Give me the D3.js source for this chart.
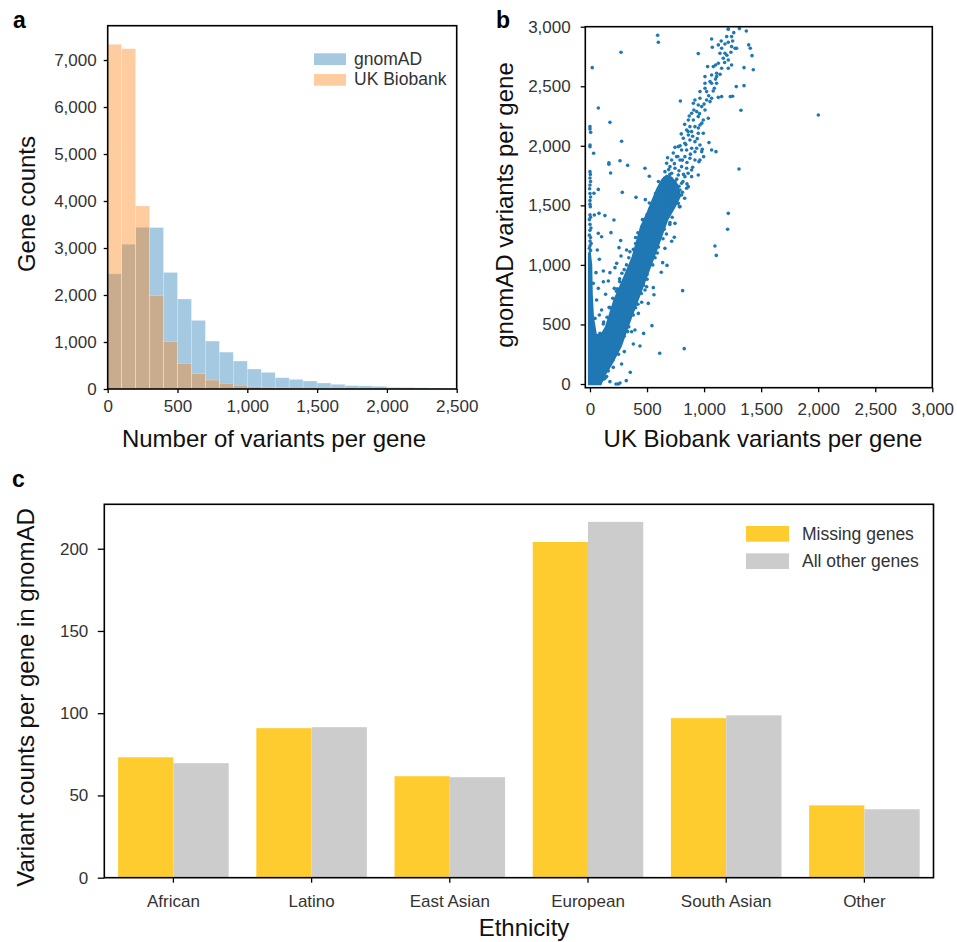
<!DOCTYPE html>
<html>
<head>
<meta charset="utf-8">
<script src="https://cdn.jsdelivr.net/npm/d3@7"></script>
<style>
body { margin: 0; background: #fff; }
text { font-family: "Liberation Sans", Arial, sans-serif; }
</style>
</head>
<body>
<script>
// ---- panel a: histogram (bins of 100 variants) ----
let binStarts = [0, 100, 200, 300, 400, 500, 600, 700, 800, 900, 1000, 1100, 1200, 1300, 1400, 1500, 1600, 1700, 1800, 1900, 2000, 2100, 2200, 2300, 2400];
let gnomadCounts = [2450, 3080, 3440, 3435, 2480, 1915, 1460, 1020, 785, 595, 425, 355, 240, 205, 170, 128, 100, 72, 66, 57, 35, 30, 25, 15, 10];
let ukbCounts = [7335, 7240, 3895, 1985, 1005, 545, 325, 190, 120, 80, 45, 32, 20, 15, 10, 7, 5, 4, 3, 2, 2, 1, 1, 1, 1];
let histXTicks = [0, 500, 1000, 1500, 2000, 2500];
let histYTicks = [0, 1000, 2000, 3000, 4000, 5000, 6000, 7000];

// ---- panel b: scatter (UK Biobank, gnomAD) ----
// outline of the solid, over-plotted core of the cloud
let coreOutline = [[-18, -10], [-18, 1100], [5, 1130], [20, 1000], [25, 750], [35, 560], [60, 420], [100, 430], [131, 481], [204, 705], [292, 901], [365, 1069], [438, 1321], [500, 1450], [540, 1545], [580, 1640], [625, 1720], [670, 1760], [720, 1740], [770, 1680], [800, 1580], [760, 1500], [686, 1377], [613, 1181], [526, 957], [438, 733], [351, 510], [278, 313], [200, 170], [130, 60], [100, -10]];
let bandPoints = [[1212, 2978], [1241, 2917], [1198, 2917], [1212, 2869], [1183, 2855], [1241, 2833], [1271, 2819], [1285, 2819], [1154, 2819], [1125, 2847], [1066, 2897], [1072, 2827], [1139, 2777], [1183, 2777], [1235, 2785], [1168, 2735], [1212, 2721], [1241, 2679], [1125, 2693], [1101, 2679], [1081, 2665], [1031, 2665], [1154, 2651], [1212, 2651], [1110, 2609], [1066, 2595], [1008, 2581], [1110, 2581], [1052, 2539], [1008, 2525], [1066, 2525], [1110, 2525], [1008, 2483], [964, 2455], [1022, 2455], [1090, 2483], [1154, 2413], [1125, 2407], [1066, 2399], [1052, 2371], [1022, 2385], [964, 2399], [920, 2385], [906, 2357], [949, 2343], [979, 2329], [1008, 2301], [935, 2287], [891, 2273], [862, 2217], [906, 2217], [949, 2245], [993, 2217], [1037, 2231], [964, 2175], [920, 2161], [876, 2161], [847, 2133], [891, 2119], [949, 2105], [993, 2105], [862, 2091], [818, 2063], [832, 2021], [876, 2049], [920, 2035], [964, 2007], [774, 1993], [745, 1987], [803, 1965], [847, 1965], [891, 1979], [935, 1979], [979, 1951], [759, 1909], [716, 1881], [789, 1881], [832, 1909], [876, 1895], [920, 1881], [964, 1881], [701, 1825], [745, 1811], [672, 1853], [803, 1825], [847, 1811], [891, 1797], [657, 1783], [716, 1769], [774, 1755], [832, 1741], [891, 1741], [643, 1713], [686, 1685], [745, 1699], [803, 1685], [862, 1657], [613, 1657], [672, 1629], [730, 1643], [789, 1629], [847, 1643], [584, 1601], [628, 1573], [686, 1587], [745, 1573], [803, 1587], [570, 1545], [613, 1531], [672, 1517], [716, 1531], [774, 1517], [540, 1489], [599, 1489], [657, 1489], [730, 1489], [789, 1489],
    [600, 1700], [655, 1730], [700, 1760], [760, 1720], [815, 1700], [850, 1680], [830, 1560], [810, 1610], [640, 1680], [690, 1800], [740, 1850], [780, 1790], [820, 1760], [860, 1770], [900, 1820], [680, 1900], [730, 1940], [770, 1910], [810, 1880], [850, 1860], [790, 2000], [840, 2010], [880, 1930], [920, 1950], [940, 2060], [900, 2080], [860, 2120], [950, 2150], [980, 2190], [800, 2100], [830, 2180], [870, 2250], [910, 2300], [960, 2270], [1000, 2350], [1040, 2420], [1080, 2460], [1100, 2560], [1140, 2600], [1180, 2700], [1200, 2760], [1250, 2880], [1260, 2950], [1150, 2880],
    [620, 1620], [660, 1560], [720, 1620], [780, 1660], [575, 1600], [555, 1520], [525, 1470], [500, 1420], [480, 1380], [460, 1330], [420, 1270], [400, 1180], [380, 1130], [340, 1060], [320, 1000], [280, 930], [260, 860], [230, 780], [200, 720], [170, 640], [150, 560], [720, 1400], [700, 1340], [670, 1260], [640, 1220], [600, 1150], [570, 1060], [550, 1000], [500, 920], [470, 830], [450, 760], [400, 640], [380, 580], [340, 480], [300, 400], [260, 330], [230, 260], [200, 200],
    [120, 520], [180, 640], [240, 800], [300, 960], [350, 1110], [400, 1230], [460, 1380], [520, 1520], [700, 1500], [650, 1300], [590, 1100], [500, 880], [420, 670], [330, 440], [250, 250], [160, 110], [120, 40]];
let outlierPoints = [[2001, 2259], [1212, 1433], [1206, 1299], [1095, 1159], [1107, 1080], [812, 784], [826, 297], [611, 258], [543, 490], [739, 1232], [675, 996], [625, 938], [561, 750], [511, 677], [470, 425], [438, 319], [380, 336], [353, 98], [318, 28], [248, 0], [228, 0], [263, 8], [482, 789], [497, 817], [555, 809], [637, 1019], [657, 1139], [716, 1198], [745, 1349], [783, 1489], [701, 1355], [424, 593], [453, 686], [394, 453], [365, 439], [301, 272], [277, 168], [204, 140], [146, 62], [175, 20], [79, 1433], [131, 1414], [210, 1377], [38, 1419], [73, 1265], [102, 1237], [184, 1271], [269, 1204], [254, 1145], [321, 1125], [272, 1075], [64, 1125], [82, 1047], [234, 1013], [219, 977], [117, 949], [53, 935], [175, 935], [260, 884], [161, 865], [117, 859], [73, 803], [137, 753], [213, 803], [169, 644], [102, 621], [82, 579], [117, 504], [44, 551], [88, 425], [64, 383], [50, 313], [73, 243], [15, 230], [88, 90], [131, 48], [58, 705], [29, 845], [593, 2928], [599, 2869], [272, 2785], [20, 2656], [73, 2318], [175, 2197], [277, 2038], [32, 1937], [166, 1858], [166, 1845], [181, 1772], [263, 1875], [330, 1836], [73, 1634], [35, 1601], [283, 1609], [403, 1567], [482, 1811], [520, 1744], [485, 1548], [792, 2376], [949, 2774], [1306, 1805], [1323, 2298], [1350, 2505], [1431, 2639], [1350, 2656], [1420, 2757], [1405, 2819], [1391, 2847], [1370, 2964], [1309, 2984], [1212, 2981], [1250, 2416], [1230, 2413], [1282, 2497], [1104, 1951], [1066, 1965], [984, 1971], [996, 1909], [955, 1867], [949, 1755], [1043, 2027]];
let stripPoints = [[0, 1420], [5, 1400], [-5, 1380], [0, 1340], [8, 1310], [0, 1290], [-5, 1250], [5, 1230], [0, 1200], [10, 1180], [0, 1160], [-5, 1140], [5, 1120], [0, 1783], [3, 1760], [0, 1730], [5, 1700], [0, 1670], [-3, 1640], [0, 1600], [5, 1570], [0, 1540], [0, 1510], [3, 1489], [0, 2161], [0, 2141], [6, 2113], [0, 2007], [0, 1993]];
let scatterTicks = [0, 500, 1000, 1500, 2000, 2500, 3000];

// ---- panel c: grouped bars ----
let ethnicities = ["African", "Latino", "East Asian", "European", "South Asian", "Other"];
let groups = ["Missing genes", "All other genes"];
let missingGenes = [73.2, 90.9, 61.7, 204.1, 97.0, 44.0];
let otherGenes = [69.6, 91.5, 61.1, 216.3, 98.7, 41.6];
let barTicks = [0, 50, 100, 150, 200];

let svg = d3.select("body").append("svg").attr("width", 957).attr("height", 942);

function frame(x0, y0, x1, y1) {
    svg.append("rect").attr("x", x0).attr("y", y0).attr("width", x1 - x0).attr("height", y1 - y0)
        .attr("fill", "none").attr("stroke", "#000").attr("stroke-width", 1.6);
}
function styleAxis(g) {
    g.select(".domain").remove();
    g.selectAll(".tick line").attr("stroke", "#000").attr("stroke-width", 1.3);
    g.selectAll(".tick text").attr("font-size", "17px").attr("fill", "#333")
        .attr("font-family", "Liberation Sans, Arial, sans-serif");
}

// ===== panel a =====
let xA = d3.scaleLinear().domain([0, 2500]).range([107.7, 456.7]);
let yA = d3.scaleLinear().domain([0, 7730]).range([389, 25.7]);

svg.append("g").selectAll("rect").data(gnomadCounts).enter().append("rect")
    .attr("x", function(d, i) { return xA(binStarts[i]); })
    .attr("width", function(d, i) { return xA(binStarts[i] + 100) - xA(binStarts[i]); })
    .attr("y", function(d) { return yA(d); })
    .attr("height", function(d) { return yA(0) - yA(d); })
    .attr("fill", "#1f77b4").attr("fill-opacity", 0.4)
    .attr("stroke", "#fff").attr("stroke-opacity", 0.4).attr("stroke-width", 0.6);
svg.append("g").selectAll("rect").data(ukbCounts).enter().append("rect")
    .attr("x", function(d, i) { return xA(binStarts[i]); })
    .attr("width", function(d, i) { return xA(binStarts[i] + 100) - xA(binStarts[i]); })
    .attr("y", function(d) { return yA(d); })
    .attr("height", function(d) { return yA(0) - yA(d); })
    .attr("fill", "#ff7f0e").attr("fill-opacity", 0.4)
    .attr("stroke", "#fff").attr("stroke-opacity", 0.4).attr("stroke-width", 0.6);

svg.append("g").attr("transform", "translate(0,389)")
    .call(d3.axisBottom(xA).tickValues(histXTicks).tickFormat(d3.format(",")).tickSize(4).tickPadding(7))
    .call(styleAxis);
svg.append("g").attr("transform", "translate(107.7,0)")
    .call(d3.axisLeft(yA).tickValues(histYTicks).tickFormat(d3.format(",")).tickSize(4).tickPadding(7))
    .call(styleAxis);
frame(107.7, 25.7, 456.7, 389);

// legend a
let legA = [["gnomAD", "#1f77b4"], ["UK Biobank", "#ff7f0e"]];
svg.append("g").selectAll("rect").data(legA).enter().append("rect")
    .attr("x", 314).attr("y", function(d, i) { return 53.3 + i * 20.7; })
    .attr("width", 32).attr("height", 11.7)
    .attr("fill", function(d) { return d[1]; }).attr("fill-opacity", 0.4);
svg.append("g").selectAll("text").data(legA).enter().append("text")
    .attr("x", 354).attr("y", function(d, i) { return 64.5 + i * 20.7; })
    .attr("font-size", "17.5px").attr("fill", "#333").text(function(d) { return d[0]; });

svg.append("text").attr("transform", "translate(35,204) rotate(-90)").attr("text-anchor", "middle")
    .attr("font-size", "24px").attr("fill", "#111").text("Gene counts");
svg.append("text").attr("x", 274).attr("y", 446.7).attr("text-anchor", "middle")
    .attr("font-size", "24px").attr("fill", "#111").text("Number of variants per gene");
svg.append("text").attr("x", 13).attr("y", 28).attr("font-size", "23px").attr("font-weight", "bold").text("a");

// ===== panel b =====
let xB = d3.scaleLinear().domain([-41, 3000]).range([585.3, 932.3]);
let yB = d3.scaleLinear().domain([-31, 3000]).range([387.7, 26.7]);

svg.append("clipPath").attr("id", "clipB").append("rect")
    .attr("x", 585.3).attr("y", 26.7).attr("width", 347).attr("height", 361);
let gB = svg.append("g").attr("clip-path", "url(#clipB)");
let coreLine = d3.line().curve(d3.curveLinearClosed)
    .x(function(d) { return xB(d[0]); }).y(function(d) { return yB(d[1]); });
gB.append("path").attr("d", coreLine(coreOutline)).attr("fill", "#1f77b4");
let allPoints = bandPoints.concat(outlierPoints, stripPoints);
gB.selectAll("circle").data(allPoints).enter().append("circle")
    .attr("cx", function(d) { return xB(d[0]); })
    .attr("cy", function(d) { return yB(d[1]); })
    .attr("r", 1.8).attr("fill", "#1f77b4");

svg.append("g").attr("transform", "translate(0,387.7)")
    .call(d3.axisBottom(xB).tickValues(scatterTicks).tickFormat(d3.format(",")).tickSize(4.6).tickPadding(11))
    .call(styleAxis);
svg.append("g").attr("transform", "translate(585.3,0)")
    .call(d3.axisLeft(yB).tickValues(scatterTicks).tickFormat(d3.format(",")).tickSize(4.6).tickPadding(10))
    .call(styleAxis);
frame(585.3, 26.7, 932.3, 387.7);

svg.append("text").attr("transform", "translate(513,205) rotate(-90)").attr("text-anchor", "middle")
    .attr("font-size", "24px").attr("fill", "#111").text("gnomAD variants per gene");
svg.append("text").attr("x", 763).attr("y", 446.7).attr("text-anchor", "middle")
    .attr("font-size", "24px").attr("fill", "#111").text("UK Biobank variants per gene");
svg.append("text").attr("x", 496).attr("y", 28).attr("font-size", "23px").attr("font-weight", "bold").text("b");

// ===== panel c =====
let xC = d3.scaleBand().domain(ethnicities).range([104.3, 933.5]).paddingInner(0.2).paddingOuter(0.1);
let xSub = d3.scaleBand().domain(groups).range([0, xC.bandwidth()]);
let yC = d3.scaleLinear().domain([0, 227]).range([877.7, 504.3]);
let barColors = ["#fecc2f", "#cccccc"];

let barRows = ethnicities.map(function(e, i) { return [e, missingGenes[i], otherGenes[i]]; });
let grp = svg.append("g").selectAll("g").data(barRows).enter().append("g")
    .attr("transform", function(d) { return "translate(" + xC(d[0]) + ",0)"; });
grp.selectAll("rect").data(function(d) { return [d[1], d[2]]; }).enter().append("rect")
    .attr("x", function(d, i) { return xSub(groups[i]); })
    .attr("width", xSub.bandwidth())
    .attr("y", function(d) { return yC(d); })
    .attr("height", function(d) { return yC(0) - yC(d); })
    .attr("fill", function(d, i) { return barColors[i]; });

svg.append("g").attr("transform", "translate(0,877.7)")
    .call(d3.axisBottom(xC).tickSize(5).tickPadding(12))
    .call(styleAxis);
svg.append("g").attr("transform", "translate(104.3,0)")
    .call(d3.axisLeft(yC).tickValues(barTicks).tickSize(6.5).tickPadding(9.5))
    .call(styleAxis);
frame(104.3, 504.3, 933.5, 877.7);

// legend c
svg.append("g").selectAll("rect").data(groups).enter().append("rect")
    .attr("x", 746).attr("y", function(d, i) { return 526 + i * 27.3; })
    .attr("width", 43).attr("height", 15.7)
    .attr("fill", function(d, i) { return barColors[i]; });
svg.append("g").selectAll("text").data(groups).enter().append("text")
    .attr("x", 802).attr("y", function(d, i) { return 540 + i * 27.3; })
    .attr("font-size", "17.5px").attr("fill", "#333").text(function(d) { return d; });

svg.append("text").attr("transform", "translate(34,697.5) rotate(-90)").attr("text-anchor", "middle")
    .attr("font-size", "24px").attr("fill", "#111").text("Variant counts per gene in gnomAD");
svg.append("text").attr("x", 524).attr("y", 936).attr("text-anchor", "middle")
    .attr("font-size", "24px").attr("fill", "#111").text("Ethnicity");
svg.append("text").attr("x", 12).attr("y", 487).attr("font-size", "23px").attr("font-weight", "bold").text("c");
</script>
</body>
</html>
